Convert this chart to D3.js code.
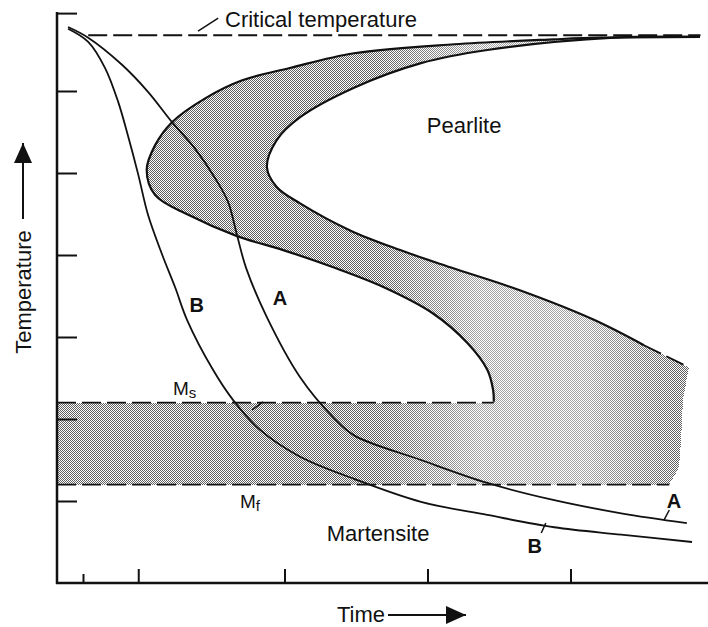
<!DOCTYPE html>
<html>
<head>
<meta charset="utf-8">
<script src="https://cdn.jsdelivr.net/npm/d3@7"></script>
<style>
  body { margin: 0; background: #fff; }
  svg { display: block; }
  text { font-family: "Liberation Sans", Arial, Helvetica, sans-serif; fill: #111; }
</style>
</head>
<body>
<div id="chart"></div>
<script>
// time in arbitrary units, temperature in degrees
const timeTicks = [0.4, 1.25, 3.5, 5.7, 7.9];
const tempTicks = [100, 200, 300, 400, 500, 600, 695];
const criticalTemp = 668;
const msTemp = 220;
const mfTemp = 120;

// pearlite start curve (outer C), top right -> nose -> down to Ms
const startCurve = [
    [9.89, 666], [8.35, 665], [7.65, 663], [6.11, 657], [4.57, 646], [3.58, 628],
    [2.85, 613], [2.28, 591], [1.77, 562], [1.51, 534], [1.38, 504], [1.51, 473],
    [2.02, 449], [2.77, 423], [3.48, 406], [4.25, 385], [5.02, 361], [5.78, 329],
    [6.31, 293], [6.62, 260], [6.71, 235], [6.72, 221]
];
// pearlite finish curve (inner C)
const finishCurve = [
    [9.89, 666], [8.57, 665], [6.62, 650], [5.6, 634], [4.57, 604], [3.74, 568],
    [3.38, 540], [3.23, 507], [3.38, 483], [3.74, 463], [4.51, 430], [5.28, 406],
    [6.05, 385], [7.12, 357], [8.26, 321], [9.03, 290]
];
const finishTail = [[9.03, 290], [9.72, 263]];
const bandEdge = [[9.72, 263], [9.63, 223], [9.6, 174], [9.57, 141], [9.42, 120]];

// cooling curves
const coolingA = [
    [0.17, 678], [0.48, 665], [1.0, 632], [1.4, 599], [1.77, 562], [2.12, 530],
    [2.43, 494], [2.63, 465], [2.77, 424], [2.91, 384], [3.23, 324], [3.74, 251],
    [4.25, 202], [4.57, 180], [5.6, 150], [6.62, 122], [7.65, 101], [8.68, 85], [9.69, 73]
];
const coolingB = [
    [0.17, 676], [0.48, 660], [0.74, 628], [0.94, 587], [1.09, 546], [1.25, 498],
    [1.4, 449], [1.62, 400], [1.82, 360], [2.0, 321], [2.4, 260], [2.71, 223],
    [3.12, 187], [3.74, 154], [4.57, 127], [5.6, 99], [6.62, 83], [7.65, 68],
    [8.68, 59], [9.77, 50]
];

class TTTDiagram {
    constructor(_config) {
        this.config = {
            parentElement: _config.parentElement,
            containerWidth: 708,
            containerHeight: 627,
        };
        this.initVis();
    }

    initVis() {
        let vis = this;

        vis.x = d3.scaleLinear().domain([0, 10]).range([57, 707]);
        vis.y = d3.scaleLinear().domain([0, 700]).range([583, 9]);

        vis.svg = d3.select(vis.config.parentElement).append('svg')
            .attr('width', vis.config.containerWidth)
            .attr('height', vis.config.containerHeight);

        const defs = vis.svg.append('defs');

        // two stipple densities, blended with a horizontal mask
        const stipple = (id, dot) => {
            const pat = defs.append('pattern')
                .attr('id', id)
                .attr('patternUnits', 'userSpaceOnUse')
                .attr('width', 2)
                .attr('height', 2);
            pat.append('rect').attr('width', 2).attr('height', 2).attr('fill', '#fff');
            pat.append('rect').attr('x', 0).attr('y', 0).attr('width', 1).attr('height', 1).attr('fill', dot);
            pat.append('rect').attr('x', 1).attr('y', 1).attr('width', 1).attr('height', 1).attr('fill', dot);
        };
        stipple('stipple-light', '#a4a4a4');
        stipple('stipple-dense', '#606060');

        const grad = defs.append('linearGradient')
            .attr('id', 'density')
            .attr('gradientUnits', 'userSpaceOnUse')
            .attr('x1', 57).attr('x2', 700).attr('y1', 0).attr('y2', 0);
        [[0, 1], [0.5, 1], [0.66, 0], [0.82, 0], [0.96, 1]].forEach(s => {
            grad.append('stop').attr('offset', s[0]).attr('stop-color', '#fff').attr('stop-opacity', s[1]);
        });
        defs.append('mask').attr('id', 'density-mask')
            .append('rect')
            .attr('width', vis.config.containerWidth)
            .attr('height', vis.config.containerHeight)
            .attr('fill', 'url(#density)');

        defs.append('marker')
            .attr('id', 'arrow')
            .attr('viewBox', '0 0 20 18')
            .attr('refX', 20).attr('refY', 9)
            .attr('markerWidth', 20).attr('markerHeight', 18)
            .attr('markerUnits', 'userSpaceOnUse')
            .attr('orient', 'auto')
            .append('path').attr('d', 'M0,0L20,9L0,18Z').attr('fill', '#111');

        vis.renderVis();
    }

    renderVis() {
        let vis = this;
        const x = vis.x, y = vis.y;

        const curve = d3.line()
            .x(d => x(d[0]))
            .y(d => y(d[1]))
            .curve(d3.curveCatmullRom.alpha(0.5));
        const straight = d3.line()
            .x(d => x(d[0]))
            .y(d => y(d[1]));
        const seg = (gen, pts) => gen(pts).replace(/^M/, 'L');

        // shaded transformation region
        const nose = startCurve[startCurve.length - 1];
        const shade = `M${x(0)},${y(msTemp)}L${x(nose[0])},${y(msTemp)}`
            + seg(curve, startCurve.slice().reverse())
            + seg(curve, finishCurve)
            + seg(straight, finishTail.concat(bandEdge))
            + `L${x(0)},${y(mfTemp)}Z`;
        vis.svg.append('path')
            .attr('d', shade)
            .attr('fill', 'url(#stipple-light)')
            .attr('shape-rendering', 'crispEdges');
        vis.svg.append('path')
            .attr('d', shade)
            .attr('fill', 'url(#stipple-dense)')
            .attr('mask', 'url(#density-mask)')
            .attr('shape-rendering', 'crispEdges');

        // dashed reference lines
        const dashed = [
            {pts: [[0.48, criticalTemp], [9.9, criticalTemp]]},
            {pts: [[0, msTemp], [nose[0], msTemp]]},
            {pts: [[0, mfTemp], [9.42, mfTemp]]},
            {pts: finishTail}
        ];
        vis.svg.selectAll('.dash').data(dashed).join('path')
            .attr('class', 'dash')
            .attr('d', d => straight(d.pts))
            .attr('fill', 'none')
            .attr('stroke', '#111')
            .attr('stroke-width', 1.8)
            .attr('stroke-dasharray', '19,6');

        // C curves and cooling curves
        vis.svg.selectAll('.curve').data([startCurve, finishCurve, coolingA, coolingB]).join('path')
            .attr('class', 'curve')
            .attr('d', d => curve(d))
            .attr('fill', 'none')
            .attr('stroke', '#111')
            .attr('stroke-width', (d, i) => i < 2 ? 2.2 : 1.8);

        // axes
        const yAxis = d3.axisRight(y).tickValues(tempTicks).tickSize(20).tickFormat('');
        const gy = vis.svg.append('g').attr('transform', `translate(${x(0)},0)`).call(yAxis);
        const xAxis = d3.axisTop(x).tickValues(timeTicks).tickSize(14).tickFormat('');
        const gx = vis.svg.append('g').attr('transform', `translate(0,${y(0)})`).call(xAxis);
        gx.selectAll('.tick line').filter((d, i) => i === 0).attr('y2', -9);
        [gy, gx].forEach(g => {
            g.select('.domain').remove();
            g.selectAll('.tick line').attr('stroke', '#111').attr('stroke-width', 2);
        });
        vis.svg.append('line')
            .attr('x1', x(0)).attr('x2', x(0))
            .attr('y1', y(0) + 1).attr('y2', y(695) - 1)
            .attr('stroke', '#111').attr('stroke-width', 2.5);
        vis.svg.append('line')
            .attr('x1', x(0) - 1).attr('x2', 708)
            .attr('y1', y(0)).attr('y2', y(0))
            .attr('stroke', '#111').attr('stroke-width', 2.5);

        // axis titles with arrows
        vis.svg.append('text')
            .attr('transform', 'translate(31,292) rotate(-90)')
            .attr('text-anchor', 'middle')
            .attr('font-size', 22)
            .text('Temperature');
        vis.svg.append('line')
            .attr('x1', 23).attr('x2', 23).attr('y1', 219).attr('y2', 143)
            .attr('stroke', '#111').attr('stroke-width', 2)
            .attr('marker-end', 'url(#arrow)');
        vis.svg.append('text')
            .attr('x', 337).attr('y', 622)
            .attr('font-size', 22)
            .text('Time');
        vis.svg.append('line')
            .attr('x1', 388).attr('x2', 466).attr('y1', 615).attr('y2', 615)
            .attr('stroke', '#111').attr('stroke-width', 2)
            .attr('marker-end', 'url(#arrow)');

        // labels
        const labels = [
            {text: 'Critical temperature', t: 2.585, T: 678, size: 22},
            {text: 'Pearlite', t: 5.69, T: 549, size: 22},
            {text: 'Martensite', t: 4.15, T: 51, size: 22},
            {text: 'B', t: 2.04, T: 330, size: 20, bold: true},
            {text: 'A', t: 3.32, T: 339, size: 20, bold: true},
            {text: 'A', t: 9.38, T: 91, size: 20, bold: true},
            {text: 'B', t: 7.24, T: 37, size: 20, bold: true}
        ];
        vis.svg.selectAll('.label').data(labels).join('text')
            .attr('class', 'label')
            .attr('x', d => x(d.t))
            .attr('y', d => y(d.T))
            .attr('font-size', d => d.size)
            .attr('font-weight', d => d.bold ? 'bold' : 'normal')
            .text(d => d.text);

        const subs = [
            {main: 'M', sub: 's', t: 1.785, T: 229},
            {main: 'M', sub: 'f', t: 2.815, T: 91}
        ];
        const st = vis.svg.selectAll('.sublabel').data(subs).join('text')
            .attr('class', 'sublabel')
            .attr('x', d => x(d.t))
            .attr('y', d => y(d.T))
            .attr('font-size', 19);
        st.append('tspan').text(d => d.main);
        st.append('tspan').attr('font-size', 15).attr('dy', 3).text(d => d.sub);

        // leader ticks
        const leaders = [
            [[2.17, 673], [2.48, 689]],
            [[9.42, 89], [9.34, 77]],
            [[7.52, 73], [7.45, 61]],
            [[3.0, 211], [3.17, 221]]
        ];
        vis.svg.selectAll('.leader').data(leaders).join('path')
            .attr('class', 'leader')
            .attr('d', d => straight(d))
            .attr('stroke', '#111')
            .attr('stroke-width', 1.5);
    }
}

new TTTDiagram({parentElement: '#chart'});
</script>
</body>
</html>
